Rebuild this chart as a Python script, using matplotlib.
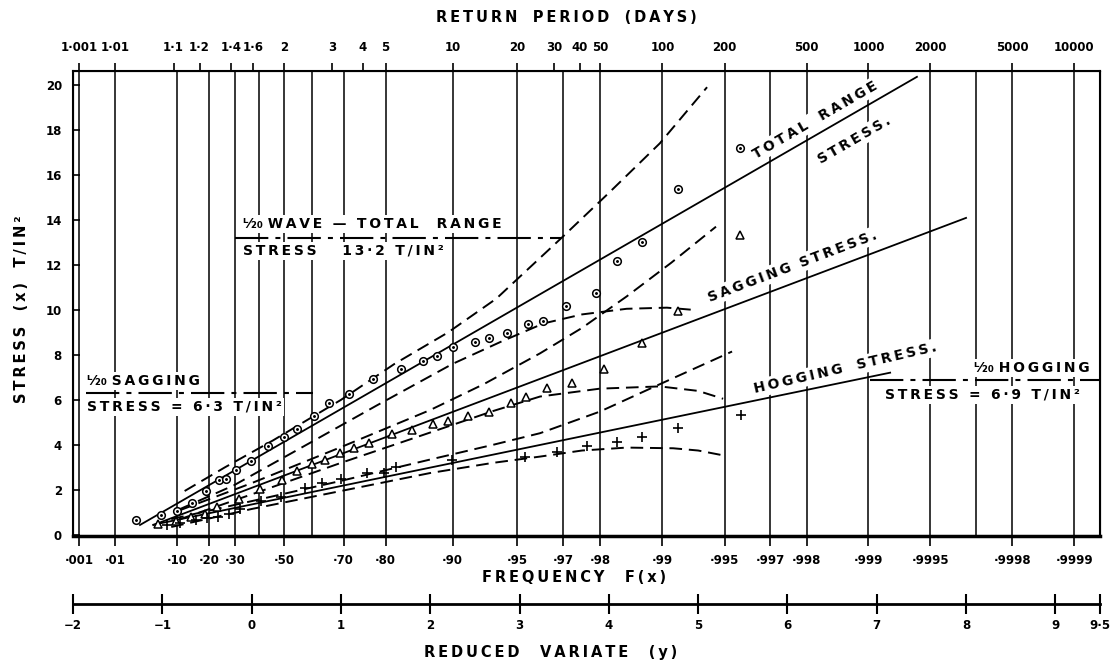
import numpy as np
import matplotlib.pyplot as plt

plt.rcParams['font.family'] = ['DejaVu Sans']
plt.rcParams['font.weight'] = 'bold'

# frequency grid (Gumbel probability paper)
freq_lines = [0.001, 0.01, 0.1, 0.2, 0.3, 0.4, 0.5, 0.6, 0.7, 0.8, 0.9, 0.95, 0.97, 0.98,
              0.99, 0.995, 0.997, 0.998, 0.999, 0.9995, 0.9997, 0.9998, 0.9999]
freq_ticks = [0.001, 0.01, 0.1, 0.2, 0.3, 0.5, 0.7, 0.8, 0.9, 0.95, 0.97, 0.98,
              0.99, 0.995, 0.997, 0.998, 0.999, 0.9995, 0.9998, 0.9999]
freq_labels = ['·001', '·01', '·10', '·20', '·30', '·50', '·70', '·80', '·90', '·95', '·97', '·98',
               '·99', '·995', '·997', '·998', '·999', '·9995', '·9998', '·9999']
period_ticks = [1.001, 1.01, 1.1, 1.2, 1.4, 1.6, 2, 3, 4, 5, 10, 20, 30, 40, 50,
                100, 200, 500, 1000, 2000, 5000, 10000]
period_labels = ['1·001', '1·01', '1·1', '1·2', '1·4', '1·6', '2', '3', '4', '5', '10', '20', '30', '40', '50',
                 '100', '200', '500', '1000', '2000', '5000', '10000']
variate_ticks = [-2, -1, 0, 1, 2, 3, 4, 5, 6, 7, 8, 9, 9.5]
variate_labels = ['−2', '−1', '0', '1', '2', '3', '4', '5', '6', '7', '8', '9', '9·5']
stress_ticks = [0, 2, 4, 6, 8, 10, 12, 14, 16, 18, 20]

# observations: reduced variate y, stress x (T/in^2)
total_y = [-1.30, -1.01, -0.84, -0.67, -0.51, -0.37, -0.29, -0.17, -0.01, 0.18, 0.36, 0.51, 0.70, 0.87,
           1.09, 1.36, 1.67, 1.92, 2.08, 2.25, 2.50, 2.66, 2.86, 3.10, 3.26, 3.52, 3.86, 4.09, 4.37, 4.78, 5.47]
total_x = [0.67, 0.89, 1.07, 1.41, 1.93, 2.44, 2.47, 2.89, 3.29, 3.93, 4.34, 4.70, 5.29, 5.85,
           6.27, 6.92, 7.36, 7.73, 7.97, 8.37, 8.56, 8.77, 8.96, 9.36, 9.52, 10.19, 10.77, 12.19, 13.04, 15.36, 17.21]

sag_y = [-1.05, -0.85, -0.68, -0.52, -0.39, -0.14, 0.09, 0.34, 0.51, 0.68, 0.82, 0.99, 1.15, 1.32, 1.57,
         1.80, 2.03, 2.20, 2.42, 2.66, 2.91, 3.07, 3.31, 3.59, 3.95, 4.37, 4.77, 5.47]
sag_x = [0.50, 0.62, 0.78, 0.92, 1.25, 1.60, 2.03, 2.44, 2.86, 3.14, 3.33, 3.66, 3.88, 4.10, 4.49,
         4.67, 4.92, 5.08, 5.30, 5.45, 5.88, 6.12, 6.52, 6.74, 7.36, 8.55, 9.96, 13.33]

hog_y = [-0.95, -0.80, -0.62, -0.50, -0.38, -0.25, -0.13, 0.10, 0.33, 0.60, 0.79, 1.00, 1.29, 1.48, 1.62,
         2.24, 3.06, 3.42, 3.76, 4.09, 4.37, 4.78, 5.48]
hog_x = [0.45, 0.55, 0.68, 0.75, 0.81, 0.95, 1.14, 1.51, 1.67, 2.07, 2.30, 2.49, 2.77, 2.77, 3.00,
         3.33, 3.48, 3.68, 3.93, 4.15, 4.33, 4.74, 5.33]

# fitted lines (end points)
total_fit_y, total_fit_x = [-1.25, 7.45], [0.44, 20.36]
sag_fit_y, sag_fit_x = [-1.10, 8.00], [0.44, 14.09]
hog_fit_y, hog_fit_x = [-1.10, 7.15], [0.45, 7.21]

# control curves
tu_y = [-0.75, -0.30, 0.24, 1.00, 1.60, 2.20, 2.74, 3.47, 4.00, 4.57, 5.10]
tu_x = [1.95, 3.00, 4.20, 6.00, 7.60, 9.00, 10.50, 13.20, 15.20, 17.40, 19.90]
tl_y = [-0.80, -0.20, 0.50, 1.40, 2.25, 2.80, 3.27, 3.70, 4.20, 4.65, 4.95]
tl_x = [1.15, 2.20, 3.75, 5.75, 7.60, 8.60, 9.40, 9.80, 10.05, 10.10, 10.00]
su_y = [-0.80, 0.00, 1.00, 2.00, 2.60, 3.23, 3.70, 4.20, 4.70, 5.20]
su_x = [1.10, 2.30, 3.90, 5.55, 6.70, 8.07, 9.20, 10.60, 12.10, 13.70]
sl_y = [-0.80, 0.00, 1.00, 2.00, 2.70, 3.23, 3.90, 4.57, 5.00, 5.28]
sl_x = [0.70, 1.80, 3.20, 4.55, 5.50, 6.15, 6.50, 6.60, 6.40, 6.05]
hu_y = [-0.90, 0.00, 1.00, 2.00, 2.70, 3.23, 3.90, 4.60, 5.38]
hu_x = [0.70, 1.50, 2.40, 3.35, 4.00, 4.52, 5.48, 6.75, 8.15]
hl_y = [-0.90, 0.00, 1.00, 2.00, 2.70, 3.23, 3.70, 4.20, 4.72, 5.00, 5.30]
hl_x = [0.35, 1.15, 1.95, 2.75, 3.20, 3.48, 3.75, 3.88, 3.85, 3.75, 3.52]

# L/20 design stresses: (value, y from, y to)
l20_total = (13.2, -0.19, 3.47)
l20_sag = (6.3, -1.85, 0.69)
l20_hog = (6.9, 6.93, 9.5)


def gumbel(F):
    return -np.log(-np.log(np.asarray(F, dtype=float)))


def spaced(s):
    return '\u2009'.join(s)


W, H = 1113, 662
fig = plt.figure(figsize=(W / 100, H / 100), dpi=100)
ax = fig.add_axes([73 / W, 1 - 536 / H, 1027 / W, 465 / H])
ax.set_xlim(-2, 9.5)
ax.set_ylim(-0.05, 20.62)

for F in freq_lines:
    ax.axvline(gumbel(F), color='black', lw=1.1, zorder=1)

# fitted lines
for fy, fx in [(total_fit_y, total_fit_x), (sag_fit_y, sag_fit_x), (hog_fit_y, hog_fit_x)]:
    ax.plot(fy, fx, color='black', lw=1.3, zorder=3)

# control curves
for cy, cx in [(tu_y, tu_x), (tl_y, tl_x), (su_y, su_x), (sl_y, sl_x), (hu_y, hu_x), (hl_y, hl_x)]:
    ax.plot(cy, cx, color='black', lw=1.4, dashes=(6.5, 3.5), zorder=3)

# points
ax.plot(total_y, total_x, 'o', mfc='white', mec='black', ms=5.5, mew=1.1, zorder=5)
ax.plot(total_y, total_x, '.', color='black', ms=2.2, zorder=6)
ax.plot(sag_y, sag_x, '^', mfc='white', mec='black', ms=6, mew=1.1, zorder=5)
ax.plot(hog_y, hog_x, '+', color='black', ms=7.5, mew=1.2, zorder=5)

# L/20 lines and labels
box = dict(facecolor='white', edgecolor='none', pad=1.5)
for val, y0, y1 in [l20_total, l20_sag, l20_hog]:
    ax.plot([y0, y1], [val, val], color='black', lw=1.5, dashes=(16, 3.4, 2.4, 3.4), zorder=4)

frac = 'ᴸ⁄₂₀ '
ax.text(-0.10, 13.82, frac + spaced('WAVE — TOTAL  RANGE'), fontsize=10, ha='left', va='center',
        bbox=box, zorder=2)
ax.text(-0.10, 12.62, spaced('STRESS   13·2 T/IN²'), fontsize=10, ha='left', va='center',
        bbox=box, zorder=2)
ax.text(-1.84, 6.84, frac + spaced('SAGGING'), fontsize=10, ha='left', va='center', bbox=box, zorder=2)
ax.text(-1.84, 5.69, spaced('STRESS = 6·3 T/IN²'), fontsize=10, ha='left', va='center', bbox=box, zorder=2)
ax.text(9.38, 7.42, frac + spaced('HOGGING'), fontsize=10, ha='right', va='center', bbox=box, zorder=2)
ax.text(9.28, 6.22, spaced('STRESS = 6·9 T/IN²'), fontsize=10, ha='right', va='center', bbox=box, zorder=2)

# curve names
ax.text(6.31, 18.44, spaced('TOTAL') + '   ' + spaced('RANGE'), fontsize=10, rotation=30,
        ha='center', va='center', rotation_mode='anchor', bbox=box, zorder=2)
ax.text(6.75, 17.55, spaced('STRESS.'), fontsize=10, rotation=30,
        ha='center', va='center', rotation_mode='anchor', bbox=box, zorder=2)
ax.text(6.06, 11.95, spaced('SAGGING') + '  ' + spaced('STRESS.'), fontsize=10, rotation=20.7,
        ha='center', va='center', rotation_mode='anchor', bbox=box, zorder=2)
ax.text(6.65, 7.41, spaced('HOGGING') + '   ' + spaced('STRESS.'), fontsize=10, rotation=13,
        ha='center', va='center', rotation_mode='anchor', bbox=box, zorder=2)

# axes styling
ax.set_xticks(gumbel(freq_ticks))
ax.set_xticklabels(freq_labels)
ax.set_yticks(stress_ticks)
ax.tick_params(axis='x', direction='out', length=7, width=1.2, pad=6, labelsize=8.5)
ax.tick_params(axis='y', direction='in', length=5, width=1.2, pad=8, labelsize=8.5)
for side in ['left', 'right', 'top']:
    ax.spines[side].set_linewidth(1.5)
ax.spines['bottom'].set_linewidth(2.5)

ax_top = ax.twiny()
ax_top.set_xlim(-2, 9.5)
ax_top.set_xticks(gumbel(1 - 1 / np.array(period_ticks, dtype=float)))
ax_top.set_xticklabels(period_labels)
ax_top.tick_params(axis='x', direction='out', length=6, width=1.2, pad=6, labelsize=8.5)

ax_rv = fig.add_axes([73 / W, 1 - 604 / H, 1027 / W, 0.0005])
ax_rv.set_xlim(-2, 9.5)
ax_rv.patch.set_visible(False)
for side in ['left', 'right', 'top']:
    ax_rv.spines[side].set_visible(False)
ax_rv.spines['bottom'].set_linewidth(2)
ax_rv.set_yticks([])
ax_rv.set_xticks(variate_ticks)
ax_rv.set_xticklabels(variate_labels)
ax_rv.tick_params(axis='x', direction='inout', length=14, width=1.5, pad=4, labelsize=8.5)

# titles
fig.text(566 / W, 1 - 18 / H, spaced('RETURN') + '   ' + spaced('PERIOD') + '   ' + spaced('(DAYS)'),
         fontsize=10.5, ha='center', va='center')
fig.text(574 / W, 1 - 578 / H, spaced('FREQUENCY') + '    ' + spaced('F(x)'),
         fontsize=10.5, ha='center', va='center')
fig.text(551 / W, 1 - 652 / H, spaced('REDUCED') + '    ' + spaced('VARIATE') + '    ' + spaced('(y)'),
         fontsize=10.5, ha='center', va='center')
fig.text(22 / W, 1 - 309 / H, spaced('STRESS') + '   ' + spaced('(x)') + '   ' + spaced('T/IN²'),
         fontsize=10.5, ha='center', va='center', rotation=90)

fig.savefig('out.png', dpi=100)
